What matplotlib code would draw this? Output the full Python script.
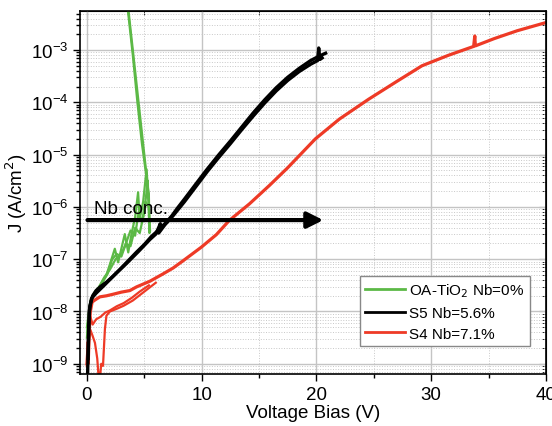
import numpy as np
import matplotlib
matplotlib.use('Agg')
import matplotlib.pyplot as plt
from matplotlib.ticker import MultipleLocator, FixedLocator, NullFormatter

plt.rcParams['font.family'] = ['Liberation Sans', 'DejaVu Sans']

# S5 Nb=5.6% (two sweeps, nearly on top of each other)
v_s5a = [0.05, 0.1, 0.15, 0.25, 0.5, 0.8, 1.2, 1.7, 2.3, 2.9, 3.6, 4.3, 5.0, 5.6, 6.1, 6.3, 6.5,
         6.9, 7.4, 7.9, 8.5, 9.5, 10.4, 11.5, 12.5, 13.5, 14.5, 15.5, 16.5, 17.5, 18.5, 19.5, 20.2, 20.8]
lj_s5a = [-9.3, -8.8, -8.3, -7.9, -7.7, -7.6, -7.52, -7.44, -7.32, -7.19, -7.03, -6.87, -6.72, -6.57,
          -6.47, -6.42, -6.38, -6.3, -6.17, -6.02, -5.85, -5.56, -5.3, -5.0, -4.74, -4.47, -4.2, -3.95,
          -3.72, -3.52, -3.35, -3.2, -3.12, -3.06]
v_s5b = [0.1, 0.2, 0.4, 0.8, 1.5, 2.5, 3.5, 4.5, 5.5, 6.0, 6.4, 6.25, 6.8, 7.5, 8.5, 9.5, 10.5,
         11.5, 12.5, 13.5, 14.5, 15.5, 16.5, 17.5, 18.5, 19.5, 20.1, 20.2, 20.3, 20.5]
lj_s5b = [-8.9, -8.0, -7.75, -7.65, -7.5, -7.28, -7.07, -6.85, -6.62, -6.52, -6.32, -6.5, -6.34,
          -6.17, -5.9, -5.61, -5.32, -5.05, -4.79, -4.52, -4.26, -4.01, -3.78, -3.58, -3.41, -3.27,
          -3.2, -2.96, -3.18, -3.15]

# OA-TiO2 Nb=0% (three sweeps)
v_g1 = [0.0, 0.1, 0.25, 0.4, 0.84, 1.3, 1.7, 2.0, 2.43, 2.72, 3.0, 3.3, 3.6, 3.9, 4.2, 4.46, 4.6,
        4.9, 5.2, 5.33, 5.3, 4.8, 4.4, 4.0, 3.6, 3.5]
lj_g1 = [-8.5, -8.2, -7.95, -7.76, -7.63, -7.45, -7.3, -7.1, -6.8, -7.06, -6.8, -6.52, -6.87, -6.5,
         -6.2, -5.72, -6.23, -5.9, -5.28, -5.75, -5.6, -4.8, -4.0, -3.1, -2.3, -2.1]
v_g2 = [0.05, 0.2, 0.5, 1.0, 1.5, 2.0, 2.5, 3.0, 3.4, 3.8, 4.2, 4.6, 5.0, 5.3, 5.45, 5.4, 5.0, 4.6,
        4.2, 3.8, 3.55]
lj_g2 = [-8.4, -8.0, -7.7, -7.55, -7.35, -7.2, -7.0, -6.9, -6.7, -6.75, -6.4, -6.5, -6.1, -5.5,
         -6.5, -5.8, -5.0, -4.2, -3.4, -2.6, -2.1]
v_g3 = [0.0, 0.3, 0.7, 1.2, 1.8, 2.2, 2.6, 3.0, 3.4, 3.8, 4.2, 4.5, 4.8, 5.1, 5.4, 5.5]
lj_g3 = [-8.3, -7.8, -7.62, -7.5, -7.28, -7.0, -6.9, -6.95, -6.7, -6.45, -6.55, -6.1, -6.3, -5.9,
         -6.0, -6.45]

# S4 Nb=7.1% (main sweep plus two noisy low-bias sweeps)
v_r1 = [0.0, 0.15, 0.3, 0.45, 0.7, 1.13, 1.7, 2.28, 3.0, 3.74, 4.32, 5.5, 6.64, 7.5, 8.38, 9.97,
        11.28, 12.4, 14.17, 15.9, 17.5, 19.9, 22.0, 24.55, 27.0, 29.2, 31.5, 33.7, 33.8, 33.85,
        35.5, 37.5, 39.9]
lj_r1 = [-9.0, -8.5, -8.0, -7.82, -7.78, -7.72, -7.7, -7.67, -7.63, -7.6, -7.53, -7.42, -7.28,
         -7.17, -7.03, -6.77, -6.53, -6.26, -5.94, -5.59, -5.25, -4.70, -4.32, -3.94, -3.6, -3.30,
         -3.1, -2.93, -2.73, -2.92, -2.78, -2.63, -2.48]
v_r2 = [0.0, 0.1, 0.3, 0.5, 0.7, 0.9, 1.0, 1.1, 1.25, 1.4, 1.57, 1.7, 2.0, 2.58, 3.2, 4.0, 5.0, 6.0]
lj_r2 = [-9.05, -8.6, -8.35, -8.47, -8.6, -8.9, -9.2, -9.35, -9.0, -9.04, -8.33, -8.08, -8.0,
         -7.95, -7.89, -7.79, -7.62, -7.45]
v_r3 = [0.05, 0.15, 0.3, 0.5, 0.8, 1.2, 1.6, 2.0, 2.6, 3.2, 3.9, 4.6, 5.4]
lj_r3 = [-8.6, -9.0, -8.1, -8.25, -8.15, -8.1, -8.02, -7.98, -7.9, -7.84, -7.74, -7.62, -7.5]

# decades shown on the J axis
decades = [-9, -8, -7, -6, -5, -4, -3]

green = '#5cb946'
red = '#ee3a26'

fig = plt.figure(figsize=(5.52, 4.27), dpi=100)
ax = fig.add_axes([0.145, 0.122, 0.844, 0.850])

ax.plot(v_g1, 10**np.array(lj_g1), color=green, lw=1.6)
ax.plot(v_g2, 10**np.array(lj_g2), color=green, lw=1.6)
ax.plot(v_g3, 10**np.array(lj_g3), color=green, lw=1.6)
ax.plot(v_r2, 10**np.array(lj_r2), color=red, lw=1.6)
ax.plot(v_r3, 10**np.array(lj_r3), color=red, lw=1.6)
ax.plot(v_r1, 10**np.array(lj_r1), color=red, lw=2.3)
ax.plot(v_s5a, 10**np.array(lj_s5a), color='black', lw=2.4)
ax.plot(v_s5b, 10**np.array(lj_s5b), color='black', lw=2.4)

# legend handles
ax.plot([], [], color=green, lw=2, label='OA-TiO$_2$ Nb=0%')
ax.plot([], [], color='black', lw=2, label='S5 Nb=5.6%')
ax.plot([], [], color=red, lw=2, label='S4 Nb=7.1%')

ax.set_yscale('log')
ax.set_xlim(-0.6, 40)
ax.set_ylim(6.4e-10, 5.6e-3)

major_y = [10.0**d for d in decades]
minor_y = [m * 10.0**d for d in decades[:1] + decades for m in range(2, 10)]
minor_y = sorted(set(v for v in [m * 10.0**d for d in [-10] + decades for m in range(2, 10)]
                     if 6.4e-10 <= v <= 5.6e-3))

ax.xaxis.set_major_locator(MultipleLocator(10))
ax.xaxis.set_minor_locator(MultipleLocator(5))
ax.yaxis.set_major_locator(FixedLocator(major_y))
ax.yaxis.set_minor_locator(FixedLocator(minor_y))
ax.yaxis.set_minor_formatter(NullFormatter())

ax.grid(which='major', color='#c4c4c4', lw=1.0, ls='-')
ax.grid(which='minor', color='#c8c8c8', lw=0.7, ls=':')
ax.set_axisbelow(True)

ax.tick_params(which='both', direction='out', labelsize=13.5, width=1)
ax.tick_params(which='major', length=5)
ax.tick_params(which='minor', length=3)
for s in ax.spines.values():
    s.set_linewidth(1.2)

top = ax.secondary_xaxis('top')
top.xaxis.set_major_locator(MultipleLocator(10))
top.xaxis.set_minor_locator(MultipleLocator(5))
top.tick_params(which='both', direction='in', labeltop=False)
top.tick_params(which='major', length=5)
top.tick_params(which='minor', length=3)
right = ax.secondary_yaxis('right')
right.yaxis.set_major_locator(FixedLocator(major_y))
right.yaxis.set_minor_locator(FixedLocator(minor_y))
right.tick_params(which='both', direction='in', labelright=False)
right.tick_params(which='major', length=5)
right.tick_params(which='minor', length=3)

ax.annotate('', xy=(20.6, 5.6e-7), xytext=(0.05, 5.6e-7),
            arrowprops=dict(arrowstyle='-|>', lw=3, color='black', mutation_scale=24,
                            shrinkA=0, shrinkB=0))
ax.text(0.6, 6.4e-7, 'Nb conc.', fontsize=13.5, ha='left', va='bottom')

ax.set_xlabel('Voltage Bias (V)', fontsize=13.5, labelpad=1)
ax.set_ylabel('J (A/cm$^2$)', fontsize=13.5, labelpad=1)

leg = ax.legend(loc='lower left', bbox_to_anchor=(0.6, 0.077), fontsize=11, fancybox=False,
                framealpha=1, edgecolor='#888888', handlelength=2.6, borderpad=0.35,
                labelspacing=0.45, handletextpad=0.3, borderaxespad=0, handleheight=0.6)
leg.get_frame().set_linewidth(1.0)

fig.savefig('out.png', dpi=100)
